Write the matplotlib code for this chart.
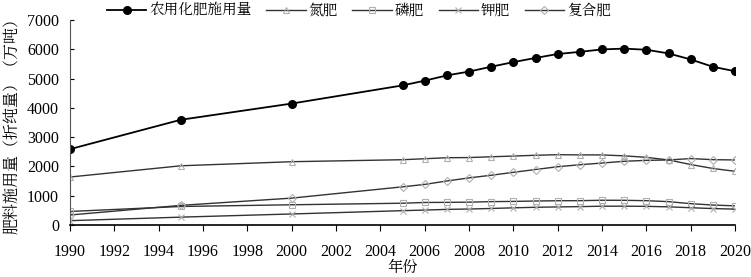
import numpy as np
import matplotlib
matplotlib.use("Agg")
import matplotlib.pyplot as plt

plt.rcParams['font.family'] = ['Liberation Serif', 'Noto Serif CJK SC']
plt.rcParams['axes.unicode_minus'] = False

years = [1990, 1995, 2000, 2005, 2006, 2007, 2008, 2009, 2010, 2011, 2012,
         2013, 2014, 2015, 2016, 2017, 2018, 2019, 2020]
total = [2590.3, 3593.7, 4146.4, 4766.2, 4927.7, 5107.8, 5239.0, 5404.4, 5561.7,
         5704.2, 5838.8, 5911.9, 5995.9, 6022.6, 5984.1, 5859.4, 5653.4, 5403.6, 5250.7]
nitrogen = [1638.4, 2021.9, 2161.5, 2229.3, 2262.5, 2297.2, 2302.9, 2329.9, 2353.7,
            2381.4, 2399.9, 2394.2, 2392.9, 2361.6, 2310.5, 2221.8, 2065.4, 1930.2, 1833.9]
phosphate = [462.4, 632.4, 690.5, 743.8, 769.5, 773.0, 780.1, 797.7, 805.6,
             819.2, 828.6, 830.6, 845.3, 843.1, 830.0, 797.6, 728.9, 681.6, 653.8]
potash = [147.9, 268.5, 376.5, 489.5, 509.7, 533.6, 545.2, 564.3, 586.4,
          605.1, 617.7, 627.4, 641.9, 642.3, 636.9, 619.7, 590.3, 561.1, 541.9]
compound = [341.6, 670.8, 917.9, 1303.2, 1385.9, 1503.0, 1608.6, 1698.7, 1798.5,
            1895.1, 1990.0, 2057.5, 2115.8, 2175.7, 2207.1, 2220.3, 2268.8, 2230.7, 2221.1]

fig = plt.figure(figsize=(7.51, 2.77), dpi=100)
ax = fig.add_axes([70/751, 52/277, 665/751, 205/277])

line_c = '#333333'
mk_c = '#b0b0b0'

ax.plot(years, total, '-o', color='black', lw=1.3, ms=5.5, label='农用化肥施用量')
ax.plot(years, nitrogen, '-^', color=line_c, lw=1.0, ms=5, mfc='none', mec=mk_c,
        mew=0.8, label='氮肥')
ax.plot(years, phosphate, '-s', color=line_c, lw=1.0, ms=5, mfc='none', mec=mk_c,
        mew=0.8, label='磷肥')
ax.plot(years, potash, '-x', color=line_c, lw=1.0, ms=5, mfc='none', mec=mk_c,
        mew=0.8, label='钾肥')
ax.plot(years, compound, '-D', color=line_c, lw=1.0, ms=4, mfc='none', mec=mk_c,
        mew=0.8, label='复合肥')

ax.set_xlim(1990, 2020)
ax.set_ylim(0, 7000)
ax.set_xticks(range(1990, 2021, 2))
ax.set_yticks(range(0, 7001, 1000))
ax.tick_params(axis='x', direction='out', length=4, labelsize=11.5, pad=10)
ax.tick_params(axis='y', direction='in', length=3, labelsize=11.5, pad=8)
for s in ['top', 'right']:
    ax.spines[s].set_visible(False)
ax.spines['left'].set_color('#555555')
ax.spines['bottom'].set_linewidth(1.2)

ax.set_xlabel('年份', fontsize=11, labelpad=0)
ax.set_ylabel('肥料施用量（折纯量）（万吨）', fontsize=11.5, labelpad=4)

ax.legend(loc='lower left', bbox_to_anchor=(37/665, 1.01), ncol=5, frameon=False,
          fontsize=10.5, handlelength=2.7, columnspacing=1.0, handletextpad=0.2,
          borderaxespad=0, borderpad=0)

fig.savefig('out.png', dpi=100)
